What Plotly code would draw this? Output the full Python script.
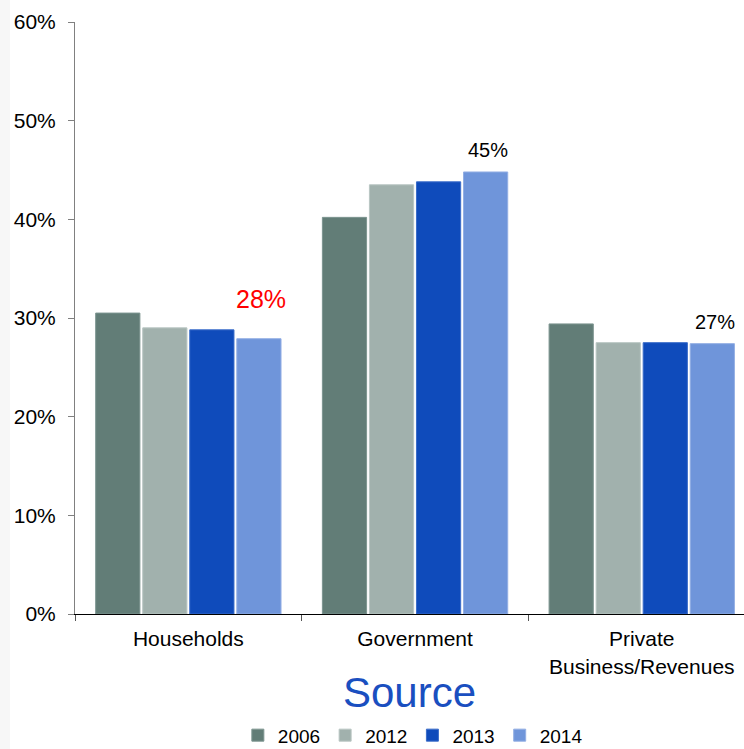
import plotly.graph_objects as go

categories = ["Households", "Government", "Private<br>Business/Revenues"]
years = ["2006", "2012", "2013", "2014"]
values_2006 = [30.5, 40.2, 29.4]
values_2012 = [29.0, 43.5, 27.5]
values_2013 = [28.8, 43.8, 27.5]
values_2014 = [27.9, 44.8, 27.4]
series = [values_2006, values_2012, values_2013, values_2014]

fill_colors = ["#627d77", "#a1b1ad", "#0f4bbb", "#6f95da"]
edge_colors = ["#7d9590", "#b9c6c3", "#3a6cc9", "#93afe4"]

FONT = "Liberation Sans, Arial"

fig = go.Figure()
for name, vals, fc, ec in zip(years, series, fill_colors, edge_colors):
    fig.add_trace(go.Bar(
        x=categories, y=vals, name=name,
        marker=dict(color=fc, line=dict(color=ec, width=1)),
    ))

# value callouts on the 2014 bars
label_styles = [
    dict(color="#ff0000", size=25, yshift=40),
    dict(color="#000000", size=20, yshift=22),
    dict(color="#000000", size=20, yshift=22),
]
for i, (cat, v) in enumerate(zip(categories, values_2014)):
    st = label_styles[i]
    fig.add_annotation(
        x=cat, y=v, text=f"{round(v)}%", showarrow=False,
        xshift=73, yshift=st["yshift"], yanchor="middle",
        font=dict(family=FONT, size=st["size"], color=st["color"]),
    )

# faint strip along the left edge
fig.add_shape(type="rect", xref="paper", yref="paper",
              x0=-0.113, x1=-0.097, y0=-0.3, y1=1.05,
              fillcolor="#f7f7f7", line=dict(width=0), layer="below")

fig.update_layout(
    width=744, height=749,
    margin=dict(l=75, r=0, t=22, b=135, autoexpand=False),
    paper_bgcolor="white", plot_bgcolor="white",
    barmode="group", bargap=0.17, bargroupgap=0.06,
    font=dict(family=FONT, size=20, color="#000000"),
    showlegend=True,
    legend=dict(orientation="h", x=0.505, xanchor="center", y=-0.237, yanchor="bottom",
                font=dict(size=19), traceorder="normal", itemwidth=30,
                bgcolor="rgba(0,0,0,0)", borderwidth=0),
    xaxis=dict(
        range=[-0.5, 2.451], showline=True, linecolor="#000000", linewidth=1,
        ticks="outside", tickson="boundaries", ticklen=6, tickcolor="#555555",
        tickfont=dict(size=21), showgrid=False, ticklabelstandoff=6, automargin=False,
        title=dict(text="Source", font=dict(size=42, color="#1a4fc0"), standoff=1),
    ),
    yaxis=dict(
        range=[0, 60], dtick=10, ticksuffix="%", showline=True,
        linecolor="#808080", linewidth=1, ticks="outside", ticklen=6,
        tickcolor="#808080", showgrid=False, zeroline=False, automargin=False,
        tickfont=dict(size=21), ticklabelstandoff=8,
    ),
)

fig.write_html("out.html")
